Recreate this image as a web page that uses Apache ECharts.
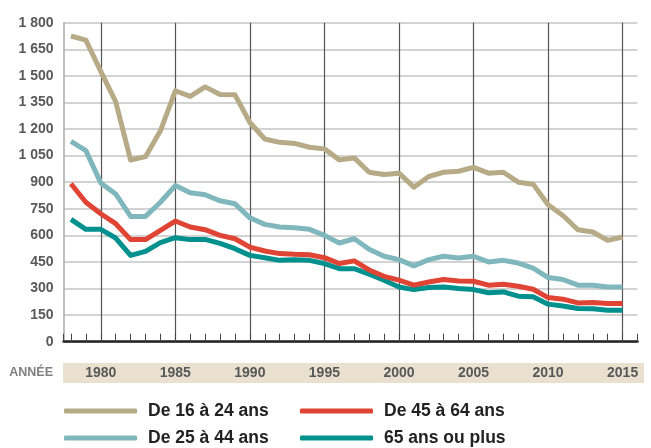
<!DOCTYPE html>
<html>
<head>
<meta charset="utf-8">
<script src="https://cdn.jsdelivr.net/npm/echarts@6/dist/echarts.min.js"></script>
<style>
	html,body{margin:0;padding:0;background:#fff;}
	#chart{width:651px;height:448px;}
</style>
</head>
<body>
<div id="chart"></div>
<script>
var years = [];
for (var y = 1978; y <= 2015; y++) { years.push(y); }

var names = ['De 16 à 24 ans', 'De 25 à 44 ans', 'De 45 à 64 ans', '65 ans ou plus'];
var colors = ['#b6ab86', '#80b7bc', '#df4434', '#00918f'];

var age16_24 = [1725, 1702, 1525, 1355, 1025, 1044, 1190, 1416, 1384, 1438, 1395, 1393, 1237, 1144, 1125, 1119, 1097, 1088, 1026, 1037,
	956, 943, 951, 872, 932, 956, 962, 984, 951, 956, 900, 889, 773, 712, 632, 619, 572, 591];
var age25_44 = [1130, 1078, 896, 834, 707, 707, 787, 881, 840, 829, 795, 778, 699, 662, 647, 643, 634, 600, 557, 581,
	522, 482, 463, 428, 463, 482, 472, 482, 450, 459, 444, 415, 362, 351, 319, 319, 309, 309];
var age45_64 = [891, 787, 722, 666, 576, 576, 628, 681, 647, 632, 600, 581, 534, 512, 497, 493, 491, 474, 441, 456,
	405, 369, 347, 319, 337, 351, 343, 341, 319, 324, 313, 296, 249, 240, 219, 221, 216, 216];
var age65plus = [690, 634, 634, 585, 487, 510, 559, 587, 576, 577, 555, 525, 487, 474, 459, 463, 459, 441, 412, 412,
	381, 347, 309, 294, 306, 309, 300, 294, 276, 281, 257, 253, 212, 201, 187, 186, 178, 178];

var yTicks = [0, 150, 300, 450, 600, 750, 900, 1050, 1200, 1350, 1500, 1650, 1800];

var font = '"Liberation Sans", Arial, sans-serif';

function pairs(vals) {
	var out = [];
	for (var i = 0; i < years.length; i++) { out.push([years[i], vals[i]]); }
	return out;
}

function makeSeries(idx, vals) {
	return {
		name: names[idx],
		type: 'line',
		data: pairs(vals),
		symbol: 'none',
		silent: true,
		lineStyle: { color: colors[idx], width: 5, join: 'round' },
		itemStyle: { color: colors[idx] }
	};
}

function makeLegend(idx, left, top) {
	return {
		data: [names[idx]],
		left: left,
		top: top,
		padding: 0,
		itemWidth: 73,
		itemHeight: 5,
		icon: 'roundRect',
		selectedMode: false,
		textStyle: { fontFamily: font, fontWeight: 'bold', fontSize: 17.5, color: '#222', padding: [0, 0, 0, 6] }
	};
}

var chart = echarts.init(document.getElementById('chart'));
var option = {
	animation: false,
	grid: { left: 63.5, top: 22.7, width: 574, height: 319 },
	legend: [
		makeLegend(0, 64, 402),
		makeLegend(2, 300, 402),
		makeLegend(1, 64, 429),
		makeLegend(3, 300, 429)
	],
	xAxis: {
		type: 'value',
		min: 1977.5,
		max: 2016,
		minInterval: 5,
		maxInterval: 5,
		axisLine: { show: true, lineStyle: { color: '#222', width: 2.5 } },
		axisTick: { show: true, inside: true, length: 8, lineStyle: { color: '#444', width: 1 } },
		minorTick: { show: true, splitNumber: 5, length: 8, lineStyle: { color: '#444', width: 1 } },
		splitLine: { show: true, showMinLine: false, showMaxLine: false, lineStyle: { color: '#555', width: 1.2 } },
		axisLabel: {
			showMinLabel: false,
			showMaxLabel: false,
			margin: 31,
			verticalAlign: 'middle',
			fontFamily: font,
			fontWeight: 'bold',
			fontSize: 14,
			color: '#585858',
			formatter: function (v) { return v % 5 === 0 ? String(v) : ''; }
		}
	},
	yAxis: {
		type: 'value',
		min: yTicks[0],
		max: yTicks[yTicks.length - 1],
		interval: 150,
		axisLine: { show: true, lineStyle: { color: '#aaa', width: 1.5 } },
		axisTick: { show: false },
		splitLine: { show: true, lineStyle: { color: '#c4c4c4', width: 1.5 } },
		axisLabel: {
			margin: 10,
			padding: [0, 0, 4, 0],
			fontFamily: font,
			fontWeight: 'bold',
			fontSize: 14,
			color: '#595959',
			formatter: function (v) { return String(v).replace(/\B(?=(\d{3})+(?!\d))/g, ' '); }
		}
	},
	graphic: [
		{ type: 'rect', z: -1, shape: { x: 63, y: 363, width: 581, height: 20 }, style: { fill: '#e9e0d0' } },
		{ type: 'text', x: 53, y: 373, style: { text: 'ANNÉE', align: 'right', verticalAlign: 'middle', font: 'bold 12.5px ' + font, fill: '#808080' } }
	],
	series: [
		makeSeries(3, age65plus),
		makeSeries(2, age45_64),
		makeSeries(1, age25_44),
		makeSeries(0, age16_24)
	]
};
chart.setOption(option);
</script>
</body>
</html>
